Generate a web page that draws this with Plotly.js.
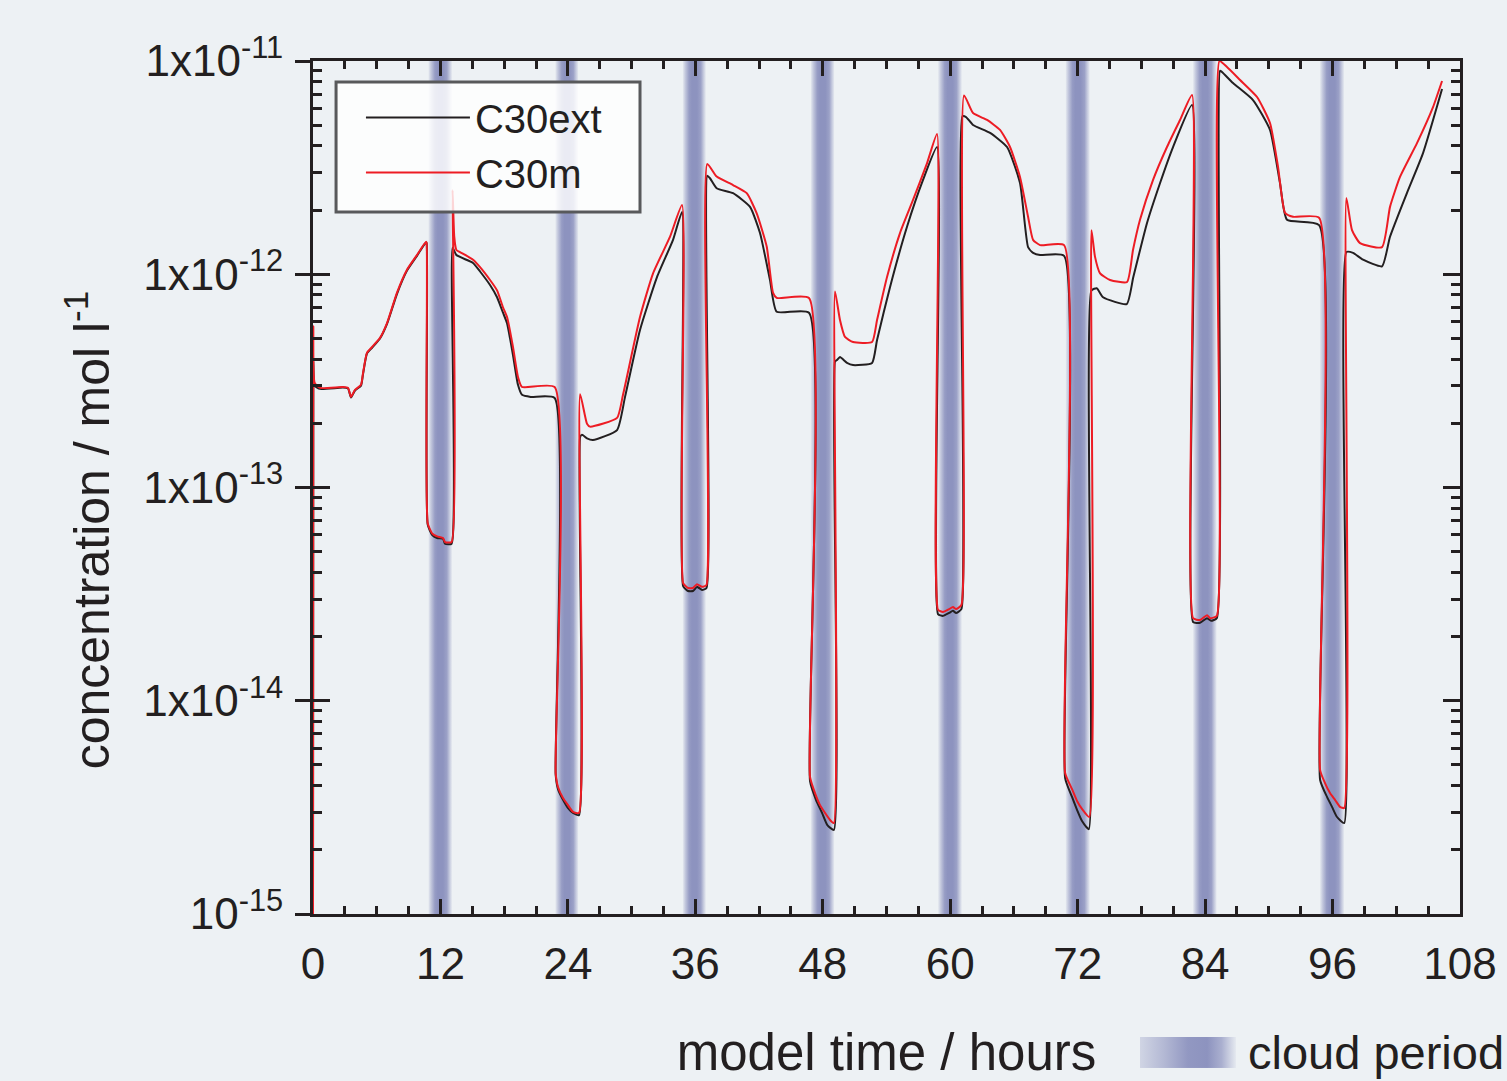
<!DOCTYPE html>
<html>
<head>
<meta charset="utf-8">
<script src="https://cdn.plot.ly/plotly-3.0.1.min.js"></script>
<style>
html,body{margin:0;padding:0;background:#edf1f4;}
#chart{width:1507px;height:1081px;}
</style>
</head>
<body>
<div id="chart"></div>
<script>
// ---- data (model time in hours, concentration in mol/l) ----
const hoursExt = [0.00,0.03,0.15,0.66,2.82,3.30,3.58,3.95,4.52,4.71,5.08,5.56,6.31,6.97,7.91,8.85,9.79,10.64,10.70,
  10.80,11.21,11.68,12.24,12.43,13.05,13.14,13.50,15.07,15.73,16.67,17.33,17.89,18.27,18.83,19.30,19.68,20.50,22.75,
  22.85,23.07,23.54,24.01,24.48,25.05,25.15,25.33,25.80,26.36,28.63,29.38,30.79,32.39,33.90,34.75,
  34.85,35.31,35.78,36.16,36.63,37.05,37.12,37.38,38.01,39.55,41.15,42.09,43.03,43.66,46.70,
  46.80,47.36,47.93,48.43,49.05,49.15,49.34,49.62,50.28,50.85,52.64,53.11,54.33,55.93,57.44,58.76,
  58.85,59.32,59.89,60.26,60.55,61.05,61.15,61.49,62.15,63.75,65.35,66.57,67.33,67.80,68.46,70.72,
  70.82,71.47,71.94,72.41,73.05,73.30,73.80,74.39,76.62,77.24,78.53,79.76,80.98,82.77,
  82.87,83.52,84.18,84.56,85.10,85.40,85.59,86.63,88.51,90.11,91.05,91.71,94.73,
  94.83,95.48,95.95,96.42,97.10,97.30,97.93,98.87,100.66,101.41,103.01,104.52,106.31];
const c30ext = [1.0e-15,3.9e-13,3.0e-13,2.90e-13,2.94e-13,2.91e-13,2.64e-13,2.85e-13,3.00e-13,3.40e-13,4.25e-13,4.52e-13,5.0e-13,5.85e-13,8.1e-13,1.04e-12,1.22e-12,1.41e-12,1.40e-12,
  6.7e-14,6.0e-14,5.8e-14,5.75e-14,5.45e-14,5.45e-14,1.33e-12,1.23e-12,1.13e-12,1.03e-12,8.9e-13,7.8e-13,6.6e-13,5.9e-13,4.18e-13,3.03e-13,2.72e-13,2.66e-13,2.63e-13,
  4.49e-15,3.85e-15,3.43e-15,3.14e-15,2.98e-15,2.91e-15,1.72e-13,1.77e-13,1.70e-13,1.67e-13,1.86e-13,2.66e-13,5.48e-13,9.7e-13,1.45e-12,1.96e-12,
  3.45e-14,3.27e-14,3.27e-14,3.42e-14,3.31e-14,3.38e-14,2.9e-12,2.82e-12,2.53e-12,2.40e-12,2.07e-12,1.56e-12,9.4e-13,6.67e-13,6.6e-13,
  4.2e-15,3.43e-15,2.98e-15,2.61e-15,2.48e-15,3.9e-13,3.96e-13,4.09e-13,3.84e-13,3.75e-13,3.84e-13,4.92e-13,8.7e-13,1.67e-12,2.77e-12,3.95e-12,
  2.55e-14,2.50e-14,2.58e-14,2.64e-14,2.58e-14,2.69e-14,5.5e-12,5.46e-12,5.01e-12,4.60e-12,3.95e-12,2.68e-12,1.34e-12,1.26e-12,1.23e-12,1.22e-12,
  4.34e-15,3.54e-15,3.08e-15,2.73e-15,2.50e-15,8.4e-13,8.6e-13,7.8e-13,7.25e-13,9.7e-13,1.74e-12,2.68e-12,3.95e-12,6.22e-12,
  2.34e-14,2.32e-14,2.44e-14,2.37e-14,2.44e-14,9.0e-12,8.88e-12,7.88e-12,6.56e-12,4.75e-12,2.68e-12,1.80e-12,1.70e-12,
  4.25e-15,3.54e-15,3.18e-15,2.85e-15,2.67e-15,1.27e-12,1.26e-12,1.17e-12,1.09e-12,1.50e-12,2.41e-12,3.70e-12,7.39e-12];

const hoursM = [0.00,0.03,0.15,0.66,2.82,3.30,3.58,3.95,4.52,4.71,5.08,5.56,6.31,6.97,7.91,8.85,9.79,10.64,10.70,
  10.80,11.21,11.68,12.24,12.43,13.05,13.14,13.30,13.50,13.84,15.07,15.73,16.67,17.33,17.89,18.27,18.83,19.30,19.68,22.75,
  22.85,23.07,23.54,24.01,24.48,25.05,25.15,25.80,26.08,28.63,29.19,30.79,32.02,33.62,34.75,
  34.85,35.31,35.78,36.16,36.63,37.05,37.12,38.01,39.55,40.84,41.78,42.72,43.31,43.66,46.70,
  46.80,47.27,47.74,48.21,48.68,49.05,49.15,49.62,50.09,50.85,52.64,53.11,54.05,55.27,56.50,57.82,58.76,
  58.85,59.32,59.89,60.26,60.55,61.05,61.30,62.15,63.47,64.69,65.63,66.57,67.33,67.80,68.46,70.72,
  70.82,71.47,71.94,72.41,73.10,73.30,73.63,74.11,75.05,76.65,77.21,77.87,79.10,80.41,81.64,82.77,
  82.87,83.52,84.18,84.46,85.10,85.35,86.06,87.29,88.89,90.11,90.87,91.53,92.28,94.73,
  94.83,95.29,95.76,96.23,96.70,97.10,97.30,97.83,98.59,100.66,101.41,102.35,103.95,105.46,106.31];
const c30m = [1.0e-15,5.7e-13,3.1e-13,2.93e-13,2.96e-13,2.93e-13,2.66e-13,2.87e-13,3.03e-13,3.44e-13,4.28e-13,4.56e-13,5.03e-13,5.9e-13,8.2e-13,1.05e-12,1.23e-12,1.42e-12,1.40e-12,
  6.8e-14,6.1e-14,5.9e-14,5.8e-14,5.55e-14,5.55e-14,2.48e-12,1.5e-12,1.30e-12,1.27e-12,1.17e-12,1.08e-12,9.4e-13,8.4e-13,7.0e-13,6.3e-13,4.56e-13,3.30e-13,2.96e-13,2.96e-13,
  4.58e-15,3.94e-15,3.50e-15,3.24e-15,3.01e-15,2.98e-15,2.74e-13,1.99e-13,1.93e-13,2.12e-13,2.72e-13,6.3e-13,1.01e-12,1.50e-12,2.11e-12,
  3.56e-14,3.38e-14,3.38e-14,3.52e-14,3.42e-14,3.49e-14,3.29e-12,2.87e-12,2.62e-12,2.40e-12,1.93e-12,1.35e-12,8.2e-13,7.74e-13,7.74e-13,
  4.39e-15,3.69e-15,3.24e-15,2.98e-15,2.76e-15,2.67e-15,8.3e-13,6.1e-13,5.08e-13,4.81e-13,4.81e-13,6.1e-13,9.7e-13,1.56e-12,2.23e-12,3.32e-12,4.55e-12,
  2.67e-14,2.61e-14,2.69e-14,2.75e-14,2.69e-14,2.81e-14,6.9e-12,5.70e-12,5.29e-12,4.75e-12,3.95e-12,2.86e-12,1.86e-12,1.45e-12,1.37e-12,1.37e-12,
  4.58e-15,3.85e-15,3.39e-15,3.11e-15,2.85e-15,1.61e-12,1.21e-12,1.01e-12,9.4e-13,9.2e-13,1.30e-12,1.80e-12,2.77e-12,3.95e-12,5.29e-12,6.93e-12,
  2.44e-14,2.39e-14,2.52e-14,2.44e-14,2.50e-14,1.0e-11,9.37e-12,8.15e-12,6.78e-12,5.12e-12,3.18e-12,1.94e-12,1.86e-12,1.84e-12,
  4.73e-15,4.11e-15,3.69e-15,3.43e-15,3.18e-15,3.14e-15,2.28e-12,1.61e-12,1.40e-12,1.34e-12,2.07e-12,2.86e-12,4.12e-12,6.08e-12,8.06e-12];

const cloudStart = [10.85, 22.8, 34.8, 46.85, 58.85, 70.85, 82.85, 94.8];
const cloudEnd   = [13.1, 25.0, 37.0, 49.1, 61.1, 73.15, 85.1, 97.1];

const xTickVals = [0, 12, 24, 36, 48, 60, 72, 84, 96, 108];
const yTickVals = [1e-15, 1e-14, 1e-13, 1e-12, 1e-11];
const yTickText = ['10<sup>-15</sup>', '1x10<sup>-14</sup>', '1x10<sup>-13</sup>', '1x10<sup>-12</sup>', '1x10<sup>-11</sup>'];

const seriesNames = ['C30ext', 'C30m'];
const xTitle = 'model time / hours';
const yTitle = 'concentration / mol l<sup>-1</sup>';
const cloudLabel = 'cloud period';

// ---- styling ----
const INK = '#231f20';
const RED = '#ed1c24';
const FONT = 'Liberation Sans, Arial, Helvetica, sans-serif';

function gradSvg(stops) {
  let s = "<svg xmlns='http://www.w3.org/2000/svg' width='100' height='100' viewBox='0 0 100 100' preserveAspectRatio='none'>" +
    "<defs><linearGradient id='g' x1='0' x2='1' y1='0' y2='0'>";
  stops.forEach(st => { s += "<stop offset='" + st[0] + "' stop-color='#8d93bf' stop-opacity='" + st[1] + "'/>"; });
  s += "</linearGradient></defs><rect x='0' y='0' width='100' height='100' fill='url(#g)'/></svg>";
  return 'data:image/svg+xml;charset=utf-8,' + encodeURIComponent(s);
}
const bandSrc = gradSvg([[0, 0.05], [0.12, 0.45], [0.28, 0.9], [0.4, 1], [0.62, 1], [0.78, 0.85], [0.9, 0.4], [1, 0.05]]);
const keySrc = gradSvg([[0, 0.3], [0.25, 0.6], [0.5, 0.95], [0.7, 1], [0.85, 0.7], [1, 0.08]]);

const images = cloudStart.map((s, i) => ({
  source: bandSrc, xref: 'x', yref: 'paper', x: s, y: 1, sizex: cloudEnd[i] - s, sizey: 1,
  sizing: 'stretch', xanchor: 'left', yanchor: 'top', layer: 'below'
}));
// cloud period key (below the plot)
images.push({ source: keySrc, xref: 'paper', yref: 'paper', x: 0.721, y: -0.1442, sizex: 0.0837, sizey: 0.0363,
  sizing: 'stretch', xanchor: 'left', yanchor: 'top', layer: 'above' });

const traces = [
  { x: hoursExt, y: c30ext, name: seriesNames[0], type: 'scatter', mode: 'lines',
    line: { color: INK, width: 2, shape: 'spline', smoothing: 0.5 }, hoverinfo: 'skip' },
  { x: hoursM, y: c30m, name: seriesNames[1], type: 'scatter', mode: 'lines',
    line: { color: RED, width: 2, shape: 'spline', smoothing: 0.5 }, hoverinfo: 'skip' },
  // helper trace to carry the outer left axis (tick labels + outward tick halves)
  { x: [null], y: [null], yaxis: 'y2', type: 'scatter', mode: 'lines', showlegend: false, hoverinfo: 'skip' }
];

const layout = {
  width: 1507, height: 1081, autosize: false,
  paper_bgcolor: '#edf1f4', plot_bgcolor: 'rgba(0,0,0,0)',
  margin: { l: 313, r: 47, t: 61, b: 167, pad: 0 },
  font: { family: FONT, color: INK },
  showlegend: true,
  legend: {
    x: 0.0418, y: 0.972, xanchor: 'left', yanchor: 'top',
    bgcolor: 'rgba(0,0,0,0)', borderwidth: 0,
    font: { size: 40, color: INK, family: FONT }, itemwidth: 104, tracegroupgap: 0
  },
  shapes: [
    // legend frame (semi-transparent, above the curves as in the original)
    { type: 'rect', xref: 'paper', yref: 'paper', x0: 0.0201, x1: 0.2851, y0: 0.823, y1: 0.9754,
      line: { color: '#58595b', width: 3 }, fillcolor: 'rgba(255,255,255,0.82)', layer: 'above' }
  ],
  xaxis: {
    range: [0, 108], tickmode: 'array', tickvals: xTickVals,
    showline: true, linewidth: 3, linecolor: INK, mirror: 'ticks',
    ticks: 'inside', ticklen: 15, tickwidth: 3, tickcolor: INK,
    minor: { dtick: 3, tick0: 0, ticks: 'inside', ticklen: 8, tickwidth: 3, tickcolor: INK, showgrid: false },
    showgrid: false, zeroline: false,
    tickfont: { size: 44, family: FONT, color: INK }, ticklabelstandoff: 9,
    title: { text: xTitle, font: { size: 51, family: FONT, color: INK }, standoff: 50 }
  },
  yaxis: {
    type: 'log', range: [-15, -11], tickmode: 'array', tickvals: yTickVals, ticktext: yTickText,
    showticklabels: false,
    showline: true, linewidth: 3, linecolor: INK, mirror: 'ticks',
    ticks: 'inside', ticklen: 17, tickwidth: 3, tickcolor: INK,
    minor: { tickmode: 'linear', dtick: 'D1', ticks: 'inside', ticklen: 9, tickwidth: 3, tickcolor: INK, showgrid: false },
    showgrid: false, zeroline: false
  },
  yaxis2: {
    type: 'log', range: [-15, -11], overlaying: 'y', side: 'left', anchor: 'x',
    tickmode: 'array', tickvals: yTickVals, ticktext: yTickText,
    ticks: 'outside', ticklen: 17, tickwidth: 3, tickcolor: INK,
    showline: false, showgrid: false, zeroline: false,
    tickfont: { size: 44, family: FONT, color: INK }, ticklabelstandoff: 3
  },
  images: images,
  annotations: [
    { text: yTitle, textangle: -90, xref: 'paper', yref: 'paper', x: -0.196, y: 0.45,
      xanchor: 'center', yanchor: 'middle', showarrow: false,
      font: { size: 50, family: FONT, color: INK } },
    { text: cloudLabel, xref: 'paper', yref: 'paper', x: 0.813, y: -0.1618,
      xanchor: 'left', yanchor: 'middle', showarrow: false,
      font: { size: 47, family: FONT, color: INK } }
  ]
};

Plotly.newPlot('chart', traces, layout, { staticPlot: true, displayModeBar: false });
</script>
</body>
</html>
